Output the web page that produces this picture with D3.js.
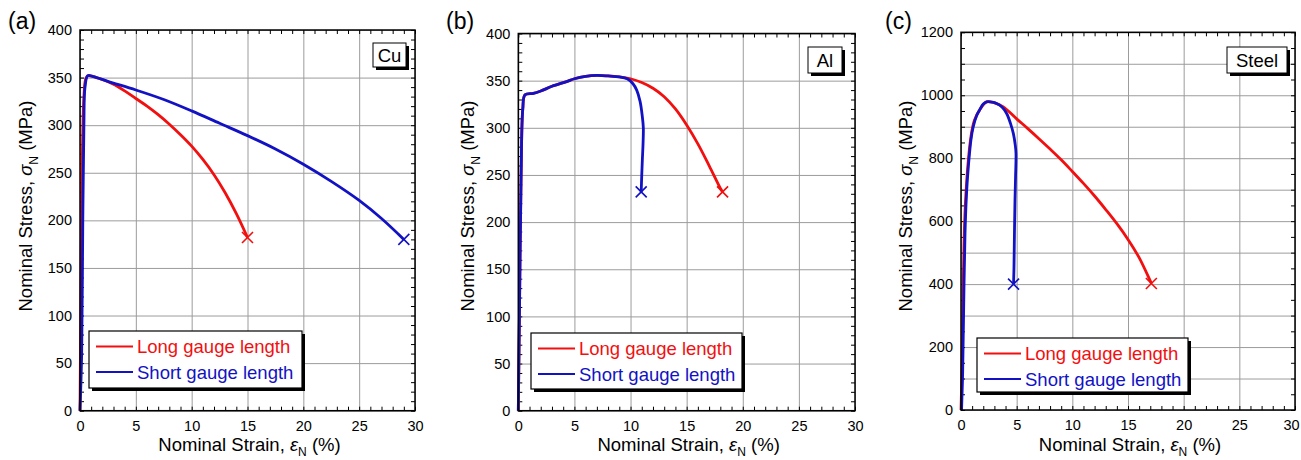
<!DOCTYPE html>
<html>
<head>
<meta charset="utf-8">
<script src="https://cdn.jsdelivr.net/npm/d3@7"></script>
<style>
  body { margin: 0; background: #fff; }
  svg text { font-family: "Liberation Sans", Arial, sans-serif; }
</style>
</head>
<body>
<svg id="chart" width="1301" height="460"></svg>
<script>
// ---- data: [strain %, stress MPa] ----
const cuLong = [[0,0],[0.08,120],[0.2,260],[0.35,330],[0.5,348],[0.7,352],[1.2,351],[2,348],[3,343],[4,336],[5,328],[6,320],[7,311],[8,301],[9,290],[10,278],[11,264],[12,248],[13,229],[14,207],[15,182]];
const cuShort = [[0,0],[0.15,60],[0.25,200],[0.35,300],[0.45,340],[0.7,352],[1.2,351],[2.5,346],[5,337],[7.5,327],[10,315],[12.5,302],[15,289],[17.5,275],[20,259],[22.5,241],[25,221],[27,202],[29,180]];
const alLong = [[0,0],[0.1,100],[0.25,250],[0.4,320],[0.6,335],[1.34,336.5],[2,339],[3,344],[4.3,349],[5,352],[6,354.5],[7,355.5],[8,355],[9,354],[10,352],[11,348],[12,342],[13,333],[14,320],[15,303],[16,283],[17,260],[18,236],[18.2,232]];
const alShort = [[0,0],[0.1,100],[0.25,250],[0.4,320],[0.6,335],[1.34,336.5],[2,339],[3,344],[4.3,349],[5,352],[6,354.5],[7,355.5],[8,355],[9,354],[9.7,352],[10.2,347],[10.55,340],[10.85,328],[11.05,312],[11.14,300],[11.12,285],[11.05,265],[11,250],[10.95,232]];
const steelLong = [[0,0],[0.1,150],[0.2,400],[0.35,620],[0.6,770],[0.9,870],[1.2,920],[1.7,955],[2.3,979],[3,976],[3.8,963],[5,925],[6,894],[7,862],[8,829],[9,795],[10,758],[11,720],[12,680],[13,637],[14,592],[15,542],[16,484],[17,410],[17.1,402]];
const steelShort = [[0.05,0],[0.15,120],[0.25,350],[0.36,560],[0.5,690],[0.66,773],[0.9,860],[1.1,900],[1.4,935],[1.7,955],[2,972],[2.3,979],[2.8,978],[3.2,974],[3.7,962],[4.1,942],[4.45,910],[4.7,879],[4.88,840],[4.94,815],[4.9,740],[4.85,667],[4.8,560],[4.76,455],[4.72,400]];

const strainTicks = [0, 5, 10, 15, 20, 25, 30];
const stressTicks400 = [0, 50, 100, 150, 200, 250, 300, 350, 400];
const stressTicks1200 = [0, 200, 400, 600, 800, 1000, 1200];
const legendLabels = ["Long gauge length", "Short gauge length"];

const RED = "#f20f0f", BLUE = "#1212c4";

// ---- panel layout ----
const panels = [
  { letter: "(a)", letterX: 8, name: "Cu", long: cuLong, short: cuShort,
    left: 80, right: 415, top: 30, bottom: 410.7, yMax: 400, yTicks: stressTicks400, yGrid: 50, yMinor: 10,
    yTitleX: 32, box: [373, 43, 33, 24], legend: [89, 331, 213, 57] },
  { letter: "(b)", letterX: 446, name: "Al", long: alLong, short: alShort,
    left: 518.3, right: 855, top: 33.5, bottom: 410.7, yMax: 400, yTicks: stressTicks400, yGrid: 50, yMinor: 10,
    yTitleX: 474, box: [808, 47, 34, 26], legend: [531, 333, 211, 56] },
  { letter: "(c)", letterX: 885, name: "Steel", long: steelLong, short: steelShort,
    left: 961, right: 1295, top: 32.3, bottom: 410, yMax: 1200, yTicks: stressTicks1200, yGrid: 100, yMinor: 50,
    yTitleX: 912, box: [1227, 47, 60, 26], legend: [977, 338, 211, 54] }
];

const svg = d3.select("#chart");

function drawPanel(p) {
  const g = svg.append("g");
  const x = d3.scaleLinear().domain([0, 30]).range([p.left, p.right]);
  const y = d3.scaleLinear().domain([0, p.yMax]).range([p.bottom, p.top]);
  const h = p.bottom - p.top, w = p.right - p.left;

  // gridlines
  const gridStyle = sel => {
    sel.select(".domain").remove();
    sel.selectAll("line").attr("stroke", "#9c9c9c").attr("stroke-width", 1);
  };
  g.append("g").attr("transform", `translate(0,${p.bottom})`)
    .call(d3.axisBottom(x).tickValues(strainTicks).tickSize(-h).tickFormat(""))
    .call(gridStyle);
  g.append("g").attr("transform", `translate(${p.left},0)`)
    .call(d3.axisLeft(y).tickValues(d3.range(0, p.yMax + 1, p.yGrid)).tickSize(-w).tickFormat(""))
    .call(gridStyle);

  // inward minor ticks on all four sides
  const tickStyle = sel => {
    sel.select(".domain").remove();
    sel.selectAll("line").attr("stroke", "#000").attr("stroke-width", 1);
  };
  const xm = d3.range(0, 31, 1), ym = d3.range(0, p.yMax + 1, p.yMinor);
  g.append("g").attr("transform", `translate(0,${p.bottom})`)
    .call(d3.axisTop(x).tickValues(xm).tickSize(4).tickFormat("")).call(tickStyle);
  g.append("g").attr("transform", `translate(0,${p.top})`)
    .call(d3.axisBottom(x).tickValues(xm).tickSize(4).tickFormat("")).call(tickStyle);
  g.append("g").attr("transform", `translate(${p.left},0)`)
    .call(d3.axisRight(y).tickValues(ym).tickSize(4).tickFormat("")).call(tickStyle);
  g.append("g").attr("transform", `translate(${p.right},0)`)
    .call(d3.axisLeft(y).tickValues(ym).tickSize(4).tickFormat("")).call(tickStyle);

  // tick labels
  const labStyle = sel => {
    sel.select(".domain").remove();
    sel.selectAll("line").remove();
    sel.selectAll("text").attr("fill", "#000").style("font-size", "14.5px")
      .style("font-family", '"Liberation Sans", Arial, sans-serif');
  };
  const xl = g.append("g").attr("transform", `translate(0,${p.bottom})`)
    .call(d3.axisBottom(x).tickValues(strainTicks).tickFormat(d3.format("d")).tickSize(0).tickPadding(10))
    .call(labStyle);
  // keep the last label inside the page on the right-most panel
  xl.selectAll("text").filter(d => x(d) + 9 > 1301).attr("dx", -4);
  g.append("g").attr("transform", `translate(${p.left},0)`)
    .call(d3.axisLeft(y).tickValues(p.yTicks).tickFormat(d3.format("d")).tickSize(0).tickPadding(8))
    .call(labStyle);

  // curves
  const line = d3.line().x(d => x(d[0])).y(d => y(d[1])).curve(d3.curveCatmullRom.alpha(0.5));
  [[p.long, RED], [p.short, BLUE]].forEach(([data, col]) => {
    g.append("path").attr("d", line(data)).attr("fill", "none")
      .attr("stroke", col).attr("stroke-width", 2.8).attr("stroke-linejoin", "round");
    const last = data[data.length - 1];
    g.append("path").attr("transform", `translate(${x(last[0])},${y(last[1])})`)
      .attr("d", "M-5.5,-5.5L5.5,5.5M-5.5,5.5L5.5,-5.5")
      .attr("stroke", col).attr("stroke-width", 1.6).attr("fill", "none");
  });

  // frame
  g.append("rect").attr("x", p.left).attr("y", p.top).attr("width", w).attr("height", h)
    .attr("fill", "none").attr("stroke", "#000").attr("stroke-width", 1.5);

  // material label box
  const [bx, by, bw, bh] = p.box;
  g.append("rect").attr("x", bx + 3).attr("y", by + 3).attr("width", bw).attr("height", bh).attr("fill", "#000");
  g.append("rect").attr("x", bx).attr("y", by).attr("width", bw).attr("height", bh)
    .attr("fill", "#fff").attr("stroke", "#000").attr("stroke-width", 1);
  g.append("text").attr("x", bx + bw / 2).attr("y", by + bh / 2 + 6.5)
    .attr("text-anchor", "middle").style("font-size", "18.5px").text(p.name);

  // legend
  const [lx, ly, lw, lh] = p.legend;
  g.append("rect").attr("x", lx + 3).attr("y", ly + 3).attr("width", lw).attr("height", lh).attr("fill", "#000");
  g.append("rect").attr("x", lx).attr("y", ly).attr("width", lw).attr("height", lh)
    .attr("fill", "#fff").attr("stroke", "#000").attr("stroke-width", 1.2);
  [RED, BLUE].forEach((col, i) => {
    const yy = ly + 15.5 + i * 25.5;
    g.append("line").attr("x1", lx + 7).attr("x2", lx + 44).attr("y1", yy).attr("y2", yy)
      .attr("stroke", col).attr("stroke-width", 2.2);
    g.append("text").attr("x", lx + 48).attr("y", yy + 6.5).attr("fill", col)
      .style("font-size", "18.5px").text(legendLabels[i]);
  });

  // axis titles
  const xt = g.append("text").attr("x", (p.left + p.right) / 2 + 2).attr("y", 451)
    .attr("text-anchor", "middle").style("font-size", "18.5px");
  xt.append("tspan").text("Nominal Strain, ");
  xt.append("tspan").style("font-style", "italic").text("ε");
  xt.append("tspan").attr("dy", 5).style("font-size", "12px").text("N");
  xt.append("tspan").attr("dy", -5).text(" (%)");

  const yt = g.append("text").attr("transform", `translate(${p.yTitleX},206) rotate(-90)`)
    .attr("text-anchor", "middle").style("font-size", "18.5px");
  yt.append("tspan").text("Nominal Stress, ");
  yt.append("tspan").style("font-style", "italic").text("σ");
  yt.append("tspan").attr("dy", 6).style("font-size", "12px").text("N");
  yt.append("tspan").attr("dy", -6).text(" (MPa)");

  // panel letter
  g.append("text").attr("x", p.letterX).attr("y", 29).style("font-size", "23px").text(p.letter);
}

panels.forEach(drawPanel);
</script>
</body>
</html>
